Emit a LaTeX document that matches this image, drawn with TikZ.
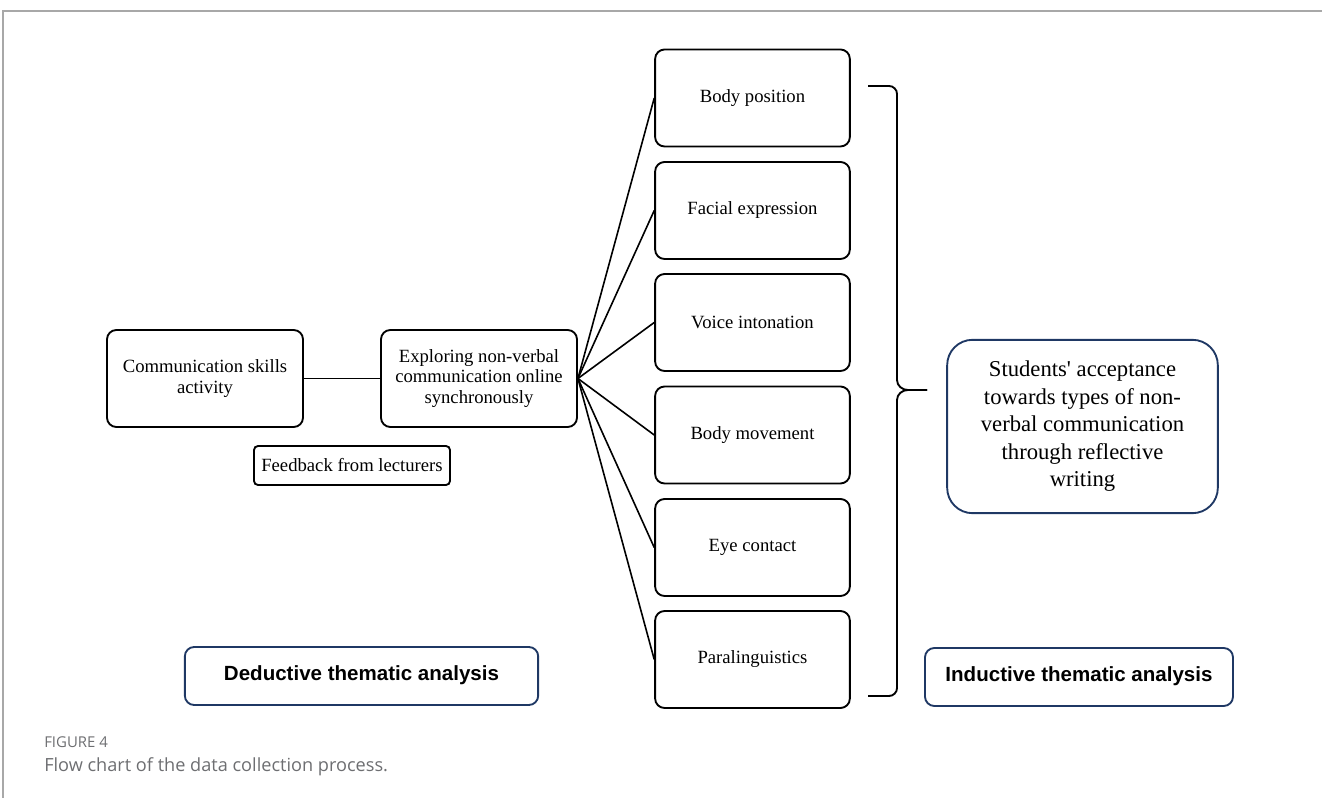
\documentclass[tikz,border=0pt]{standalone}
\usepackage{fontspec}
\setmainfont{Liberation Serif}
\newfontfamily\plainserif{Liberation Serif}
\newfontfamily\arialfont{Liberation Sans}
\newfontfamily\capfont{Open Sans}
\definecolor{navy}{HTML}{1F3864}
\definecolor{capgray}{HTML}{6D6E71}
\definecolor{framegray}{HTML}{A8A8A8}
\begin{document}
\begin{tikzpicture}[x=0.75pt,y=-0.75pt,
  blackbox/.style={draw=black,line width=1.4pt,rounded corners=7pt,align=center,
    font=\fontsize{14}{15.5}\selectfont,inner sep=2pt},
  sidebox/.style={blackbox,minimum width=146pt,minimum height=72.75pt},
  navybox/.style={draw=navy,line width=1.4pt,align=center},
  labelbox/.style={navybox,rounded corners=7pt,minimum height=43.5pt,
    font=\arialfont\bfseries\fontsize{15.4}{18}\selectfont},
  link/.style={draw=black,line width=1.2pt}]
\useasboundingbox (0,0) rectangle (1322,798);
% frame
\draw[framegray,line width=1.3pt] (1322,11) -- (3,11) -- (3,798);
% left boxes
\node[blackbox,minimum width=147pt,minimum height=72.75pt] (comm) at (205,378.5) {Communication skills\\activity};
\node[blackbox,minimum width=147pt,minimum height=72.75pt] (expl) at (479,378.5) {Exploring non-verbal\\communication online\\synchronously};
\node[blackbox,rounded corners=3pt,minimum width=147pt,minimum height=29.25pt] (feed) at (352,465.5) {Feedback from lecturers};
% right column
\node[sidebox] (b1) at (752.5,98) {Body position};
\node[sidebox] (b2) at (752.5,210.5) {Facial expression};
\node[sidebox] (b3) at (752.5,322.5) {Voice intonation};
\node[sidebox] (b4) at (752.5,435) {Body movement};
\node[sidebox] (b5) at (752.5,547.5) {Eye contact};
\node[sidebox] (b6) at (752.5,659.5) {Paralinguistics};
% connectors
\draw[link] (comm.east) -- (expl.west);
\foreach \b in {b1,b2,b3,b4,b5,b6}{\draw[link] (expl.east) -- (\b.west);}
% brace
\coordinate (bt) at (868,86);
\coordinate (bb) at (868,696);
\coordinate (btip) at (927,390);
\draw[line width=1.4pt] (bt) -- (889,86) to[out=0,in=90] (897,94) -- (897,380)
  to[out=-90,in=180] (908,390) -- (btip);
\draw[line width=1.4pt] (btip) -- (908,390) to[out=180,in=90] (897,400) -- (897,688)
  to[out=-90,in=0] (889,696) -- (bb);
% students box
\node[navybox,rounded corners=19pt,minimum width=203pt,minimum height=130pt,
  font=\plainserif\fontsize{17}{20.6}\selectfont] (stud) at (1082.5,426.5)
  {Students' acceptance\\towards types of non-\\verbal communication\\through reflective\\writing};
% label boxes
\node[labelbox,minimum width=265pt] (ded) at (361.5,676) {\raisebox{4.5pt}{Deductive thematic analysis}};
\node[labelbox,minimum width=231pt] (ind) at (1079,677) {\raisebox{4.5pt}{Inductive thematic analysis}};
% caption
\node[anchor=west,text=capgray,font=\capfont\fontsize{11.2}{12}\selectfont,inner sep=0pt] (fig) at (44,742) {FIGURE 4};
\node[anchor=west,text=capgray,font=\capfont\fontsize{13.6}{16}\selectfont,inner sep=0pt] (cap) at (44,767) {Flow chart of the data collection process.};
\end{tikzpicture}
\end{document}
